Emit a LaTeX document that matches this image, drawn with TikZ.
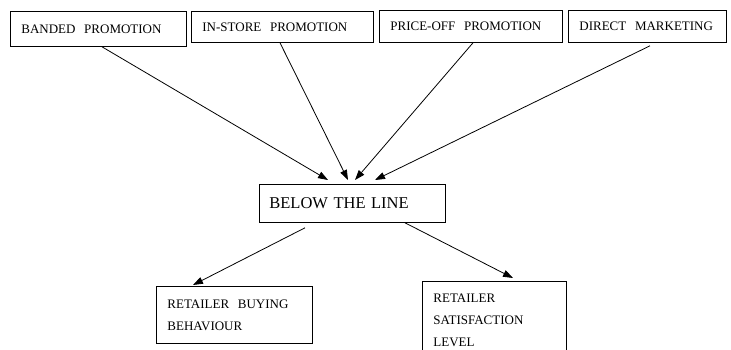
\documentclass[tikz,border=0pt]{standalone}
\usepackage{fontspec}
\setmainfont{Liberation Serif}
\usetikzlibrary{arrows.meta}
\tikzset{
    every node/.style={rectangle, draw, anchor=north west, inner xsep=11pt, inner ysep=0pt, align=left, line width=.8pt},
    tbox/.style={font={\fontsize{13}{22}\selectfont}},
    mbox/.style={font={\fontsize{16.5}{22}\selectfont}},
    link/.style={line width=.8pt, -{Triangle[length=10pt,width=7pt]}}
}

\begin{document}
\begin{tikzpicture}[x=1pt, y=-1pt]
    \useasboundingbox (0,0) rectangle (731,349);
    \clip (0,0) rectangle (731,349);

    \node (bp) [tbox, text width=154pt, minimum height=35pt] at (10, 11) {BANDED~~PROMOTION};
    \node (isp) [tbox, text width=160pt, minimum height=31pt] at (191, 11) {IN-STORE~~PROMOTION};
    \node (pop) [tbox, text width=161pt, minimum height=32pt] at (379, 10) {PRICE-OFF~~PROMOTION};
    \node (dm) [tbox, text width=136pt, minimum height=32pt] at (568, 10) {DIRECT~~MARKETING};

    \node (btl) [mbox, inner xsep=10pt, text width=166pt, minimum height=38pt] at (259, 184) {BELOW THE LINE};

    \node (rbb) [tbox, text width=134pt, minimum height=57pt] at (156, 286) {RETAILER~~BUYING\\BEHAVIOUR};
    \node (rsl) [tbox, text width=122pt, minimum height=77pt] at (422, 281) {RETAILER\\SATISFACTION\\LEVEL};

    \draw[link] ([xshift=92pt]bp.south west) -- ([xshift=69pt, yshift=4pt]btl.north west);
    \draw[link] ([xshift=89pt]isp.south west) -- ([xshift=89pt, yshift=4pt]btl.north west);
    \draw[link] ([xshift=94pt]pop.south west) -- ([xshift=96pt, yshift=4pt]btl.north west);
    \draw[link] ([xshift=82pt, yshift=-3pt]dm.south west) -- ([xshift=116pt, yshift=4pt]btl.north west);

    \draw[link] ([xshift=46pt, yshift=-5pt]btl.south west) -- ([xshift=37pt, yshift=1pt]rbb.north west);
    \draw[link] ([xshift=146pt]btl.south west) -- ([xshift=91pt, yshift=3pt]rsl.north west);
\end{tikzpicture}
\end{document}
